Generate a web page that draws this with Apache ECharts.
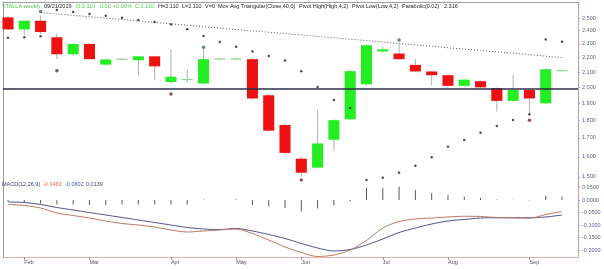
<!DOCTYPE html>
<html><head><meta charset="utf-8">
<script src="https://cdn.jsdelivr.net/npm/echarts@6/dist/echarts.min.js"></script>
<style>html,body{margin:0;padding:0;background:#fff}#c{width:604px;height:269px}</style>
</head><body><div id="c"></div>
<script>
// ---- data (weekly bars) ----
const weeks = ['2019-01-21','2019-01-28','2019-02-04','2019-02-11','2019-02-18','2019-02-25','2019-03-04','2019-03-11','2019-03-18','2019-03-25','2019-04-01','2019-04-08','2019-04-15','2019-04-22','2019-04-29','2019-05-06','2019-05-13','2019-05-20','2019-05-27','2019-06-03','2019-06-10','2019-06-17','2019-06-24','2019-07-01','2019-07-08','2019-07-15','2019-07-22','2019-07-29','2019-08-05','2019-08-12','2019-08-19','2019-08-26','2019-09-02','2019-09-09','2019-09-16'];
const open  = [2.505,2.410,2.478,2.350,2.225,2.300,2.152,2.188,2.183,2.210,2.035,2.050,2.025,2.190,2.190,2.190,1.950,1.772,1.590,1.545,1.690,1.805,2.020,2.245,2.230,2.150,2.105,2.080,2.010,2.040,1.995,1.915,1.983,1.900,2.110];
const high  = [2.515,2.480,2.520,2.380,2.305,2.305,2.190,2.195,2.215,2.215,2.260,2.120,2.265,2.195,2.195,2.195,1.960,1.780,1.600,1.860,1.805,2.115,2.295,2.280,2.310,2.190,2.110,2.085,2.055,2.045,2.000,2.080,1.990,2.125,2.110];
const low   = [2.405,2.366,2.375,2.190,2.215,2.190,2.145,2.185,2.080,2.047,2.020,2.030,2.020,2.185,2.185,1.925,1.735,1.610,1.500,1.540,1.630,1.800,2.010,2.240,2.185,2.100,2.015,2.000,2.005,1.995,1.850,1.910,1.840,1.895,2.110];
const close = [2.410,2.478,2.390,2.225,2.300,2.190,2.188,2.191,2.210,2.140,2.070,2.052,2.190,2.192,2.192,1.930,1.740,1.620,1.520,1.670,1.800,2.107,2.290,2.260,2.190,2.105,2.080,2.010,2.050,2.000,1.915,1.983,1.930,2.120,2.110];
const maTri = [null,null,2.544,2.533,2.521,2.510,2.499,2.488,2.476,2.465,2.454,2.443,2.431,2.420,2.409,2.399,2.388,2.378,2.367,2.356,2.346,2.335,2.325,2.314,2.303,2.293,2.283,2.272,2.262,2.252,2.242,2.232,2.222,2.211,2.201];
const sar = [2.347,2.350,2.357,2.565,2.548,2.532,2.519,2.502,2.484,2.468,2.449,2.411,2.360,2.315,2.280,2.245,2.212,2.180,2.106,2.002,1.920,1.871,1.485,1.496,1.520,1.555,1.598,1.652,1.689,1.728,1.767,1.801,1.835,2.333,2.316];
const pivotHighIdx = [2,12,24];
const pivotHighVal = [2.552,2.275,2.330];
const pivotLowIdx = [3,10,18,32];
const pivotLowVal = [2.110,1.958,1.485,1.800];
const macd   = [-0.018,-0.022,-0.032,-0.052,-0.062,-0.072,-0.084,-0.094,-0.100,-0.108,-0.120,-0.128,-0.124,-0.120,-0.116,-0.134,-0.160,-0.188,-0.210,-0.226,-0.220,-0.200,-0.162,-0.112,-0.086,-0.076,-0.072,-0.068,-0.065,-0.066,-0.070,-0.071,-0.073,-0.058,-0.046];
const signal = [-0.008,-0.010,-0.018,-0.030,-0.040,-0.050,-0.060,-0.070,-0.080,-0.090,-0.100,-0.110,-0.116,-0.118,-0.114,-0.124,-0.138,-0.154,-0.174,-0.192,-0.204,-0.198,-0.180,-0.156,-0.130,-0.112,-0.096,-0.084,-0.078,-0.072,-0.071,-0.071,-0.071,-0.068,-0.060];
const hist   = [-0.006,-0.008,-0.014,-0.018,-0.018,-0.020,-0.020,-0.018,-0.018,-0.018,-0.018,-0.018,0.002,0.000,0.003,-0.020,-0.026,-0.032,-0.046,-0.034,-0.022,-0.006,0.048,0.048,0.053,0.040,0.027,0.020,0.013,0.009,0.002,0.001,-0.002,0.017,0.014];
const priceTicks = [2.5,2.4,2.3,2.2,2.1,2.0,1.9,1.8,1.7,1.6,1.5];
const macdTicks = [0.05,0,-0.05,-0.1,-0.15,-0.2];
const refLevel = 2.0;
const monthIdx = [1,5,10,14,18,23,27,32];
const monthNames = ['Feb','Mar','Apr','May','Jun','Jul','Aug','Sep'];

// ---- header text ----
const header = [
  ['VTALLA weekly',2,'#4ccc4c'],['09/21/2019',44,'#222'],['O:2.110',76,'#4ccc4c'],['0.00',100,'#4ccc4c'],
  ['+0.00%',113,'#4ccc4c'],['C:2.110',135,'#4ccc4c'],['H=2.110',158,'#222'],['L=2.110',182,'#222'],
  ['V=0',205,'#222'],['Mov Avg Triangular(Close,40,0)',218,'#222'],['Pivot High(High,4,2)',299,'#222'],
  ['Pivot Low(Low,4,2)',352,'#222'],['Parabolic(0.02)',402,'#222'],['2.316',444,'#222']
];
const macdHeader = [['MACD(12,26,9)',2,'#3c3c66'],['-0.0463',43,'#e0704c'],['-0.0602',65,'#4a5aa8'],['0.0139',86,'#3c4488']];

const FONT = 'Liberation Sans';
const L = Math.log;
const titles = header.map(h => ({text:h[0], left:h[1], top:3, padding:0, textStyle:{fontSize:5.5, fontWeight:'normal', color:h[2], fontFamily:FONT}}))
  .concat(macdHeader.map(h => ({text:h[0], left:h[1], top:181, padding:0, textStyle:{fontSize:5.5, fontWeight:'normal', color:h[2], fontFamily:FONT}})));

const xMin = -0.307, xMax = 34.98;
const candleData = weeks.map((w,i) => [i, L(open[i]), L(close[i]), L(low[i]), L(high[i])]);

const chart = echarts.init(document.getElementById('c'), null, {renderer:'canvas'});
chart.setOption({
  animation:false,
  backgroundColor:'#fff',
  title: titles,
  grid:[{left:3,right:26,top:2,height:179},{left:3,right:26,top:181,height:76}],
  xAxis:[
    {gridIndex:0,type:'value',min:xMin,max:xMax,position:'top',
     axisLine:{show:true,onZero:false,lineStyle:{color:'#a0a0a0'}},axisTick:{show:false},axisLabel:{show:false},splitLine:{show:false}},
    {gridIndex:1,type:'value',min:xMin,max:xMax,position:'bottom',
     axisLine:{show:true,onZero:false,lineStyle:{color:'#e2b4b0'}},
     axisTick:{show:true,customValues:monthIdx,length:3,lineStyle:{color:'#999'}},
     axisLabel:{show:true,customValues:monthIdx,formatter:v=>monthNames[monthIdx.indexOf(Math.round(v))],
       align:'left',margin:2,fontSize:5.5,color:'#555',fontFamily:FONT},
     splitLine:{show:false}}
  ],
  yAxis:[
    {gridIndex:0,type:'value',position:'right',min:L(1.48),max:L(2.632),
     axisLine:{show:true,onZero:false,lineStyle:{color:'#c99a90'}},
     axisTick:{show:true,customValues:priceTicks.map(L),length:2,lineStyle:{color:'#c99a90'}},
     axisLabel:{show:true,customValues:priceTicks.map(L),formatter:v=>Math.exp(v).toFixed(3),fontSize:5.5,color:'#5c5c80',margin:4,fontFamily:FONT},
     splitLine:{show:false}},
    {gridIndex:1,type:'value',position:'right',min:-0.228,max:0.076,
     axisLine:{show:true,onZero:false,lineStyle:{color:'#c99a90'}},
     axisTick:{show:true,customValues:macdTicks,length:2,lineStyle:{color:'#c99a90'}},
     axisLabel:{show:true,customValues:macdTicks,formatter:v=>v.toFixed(4),fontSize:5.5,color:'#5c5c80',margin:4,fontFamily:FONT},
     splitLine:{show:false}},
    {gridIndex:0,type:'value',position:'left',min:0,max:1,
     axisLine:{show:true,onZero:false,lineStyle:{color:'#999'}},axisTick:{show:false},axisLabel:{show:false},splitLine:{show:false}},
    {gridIndex:1,type:'value',position:'left',min:0,max:1,
     axisLine:{show:true,onZero:false,lineStyle:{color:'#999'}},axisTick:{show:false},axisLabel:{show:false},splitLine:{show:false}}
  ],
  series:[
    {type:'line',xAxisIndex:0,yAxisIndex:0,data:maTri.map((v,i)=>[i, v==null?null:L(v)]),
     symbol:'none',lineStyle:{type:[1,2],color:'#555',width:1},z:2,
     markLine:{silent:true,symbol:'none',label:{show:false},lineStyle:{type:'solid',color:'#2c2c4c',width:1.5},data:[{yAxis:L(refLevel)}]}},
    {type:'custom',xAxisIndex:0,yAxisIndex:0,data:candleData,encode:{x:0,y:[1,2,3,4]},z:3,
     renderItem:function(params, api){
       const i = api.value(0);
       const o = api.coord([i, api.value(1)]);
       const c = api.coord([i, api.value(2)]);
       const lo = api.coord([i, api.value(3)]);
       const hi = api.coord([i, api.value(4)]);
       const w = api.size([1,0])[0]*0.68;
       const up = api.value(2) >= api.value(1);
       let top = Math.min(o[1],c[1]), bot = Math.max(o[1],c[1]);
       const flat = bot-top < 1.2;
       const color = flat ? '#8fd68f' : (up ? '#22ee22' : '#ee1111');
       if (flat){ const m=(top+bot)/2; top=m-0.6; bot=m+0.6; }
       return {type:'group',children:[
         {type:'line',shape:{x1:hi[0],y1:hi[1],x2:lo[0],y2:lo[1]},style:{stroke:'#b0b0b0',lineWidth:1}},
         {type:'rect',shape:{x:o[0]-w/2,y:top,width:w,height:bot-top},style:{fill:color}}
       ]};
     }},
    {type:'scatter',xAxisIndex:0,yAxisIndex:0,data:sar.map((v,i)=>[i,L(v)]),symbol:'circle',symbolSize:2.5,itemStyle:{color:'#222'},z:4},
    {type:'scatter',xAxisIndex:0,yAxisIndex:0,data:pivotHighIdx.map((k,j)=>[k,L(pivotHighVal[j])]),symbol:'circle',symbolSize:3.5,itemStyle:{color:'#2f6674'},z:5},
    {type:'scatter',xAxisIndex:0,yAxisIndex:0,data:pivotLowIdx.map((k,j)=>[k,L(pivotLowVal[j])]),symbol:'circle',symbolSize:3.5,itemStyle:{color:'#7a2424'},z:5},
    {type:'bar',xAxisIndex:1,yAxisIndex:1,data:hist.map((v,i)=>[i,v]),barWidth:1,itemStyle:{color:'#5a5a5a'}},
    {type:'line',xAxisIndex:1,yAxisIndex:1,data:signal.map((v,i)=>[i,v]),symbol:'none',smooth:0.3,lineStyle:{color:'#52528c',width:1}},
    {type:'line',xAxisIndex:1,yAxisIndex:1,data:macd.map((v,i)=>[i,v]),symbol:'none',smooth:0.3,lineStyle:{color:'#bf7562',width:1}}
  ]
});
</script>
</body></html>
